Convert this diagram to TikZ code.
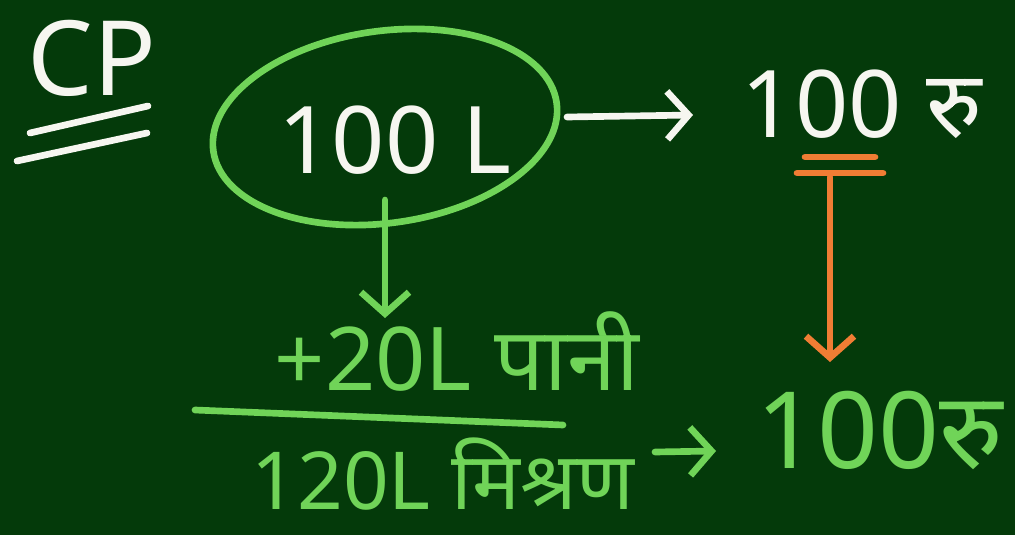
\documentclass[tikz,border=0pt]{standalone}
\usepackage{fontspec}
\setmainfont[Script=Devanagari]{Noto Sans}
\usetikzlibrary{shapes.geometric,arrows.meta,calc}
\definecolor{board}{RGB}{4,58,10}
\definecolor{chalkgreen}{RGB}{112,212,88}
\definecolor{chalkwhite}{RGB}{246,246,240}
\definecolor{chalkorange}{RGB}{240,125,52}
\tikzset{
  txt/.style={inner sep=0pt, outer sep=0pt},
  stroke/.style={line width=5pt, line cap=round, line join=round},
  barb/.style={-{Straight Barb[length=16pt, width=36pt, line width=5pt]}},
}
\begin{document}
\begin{tikzpicture}[x=0.75pt, y=-0.75pt]
\useasboundingbox (0,0) rectangle (1015,535);
\fill[board] (0,0) rectangle (1015,535);

% CP heading
\node[txt, text=chalkwhite, font=\fontsize{78}{82}\selectfont] (cp) at (92,58) {CP};
\draw[stroke, chalkwhite] (30,133) -- (148,106);
\draw[stroke, chalkwhite] (17,161) -- (147,133);

% ellipse and 100 L
\node[draw=chalkgreen, line width=5pt, ellipse, minimum width=260pt, minimum height=144pt, rotate=8] (ell) at (385,127) {};
\node[txt, text=chalkwhite, font=\fontsize{70}{74}\selectfont] (src) at (395,140) {100 L};

% top right price
\node[txt, text=chalkwhite, font=\fontsize{70}{74}\selectfont] (price1) at (862,104) {100 रु};
\coordinate (a1s) at (567,117);
\coordinate (a1e) at (693,115);
\draw[stroke, chalkwhite, barb] (a1s) -- (a1e);

% orange equal and arrow
\coordinate (eq) at (830,177);
\coordinate (eqe) at (830,362);
\draw[stroke, chalkorange] (805,157) -- (875,157);
\draw[stroke, chalkorange] (797,173) -- (883,173);
\draw[stroke, chalkorange, barb] (eq) -- (eqe);

% water line
\node[txt, text=chalkgreen, font=\fontsize{66}{70}\selectfont] (water) at (457,352) {+20L पानी};
\coordinate (g1s) at (385,200);
\coordinate (g1e) at (385,318);
\draw[stroke, chalkgreen, barb] (g1s) -- (g1e);

% fraction line
\draw[stroke, chalkgreen] (195,410) -- (563,425);

% mixture
\node[txt, text=chalkgreen, font=\fontsize{60}{64}\selectfont] (mix) at (443,474) {120L मिश्रण};
\node[txt, text=chalkgreen, font=\fontsize{80}{84}\selectfont] (price2) at (880,430) {100रु};
\coordinate (a3s) at (655,452);
\coordinate (a3e) at (716,451);
\draw[stroke, chalkgreen, barb] (a3s) -- (a3e);
\end{tikzpicture}
\end{document}
